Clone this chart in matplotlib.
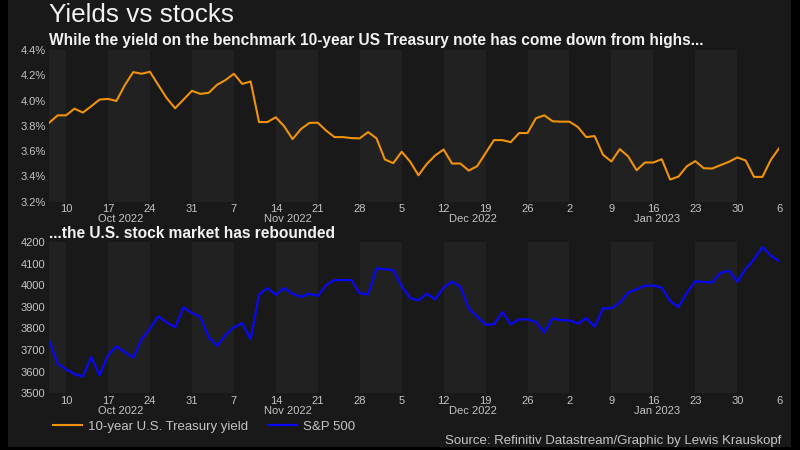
import matplotlib.pyplot as plt
import numpy as np
import pandas as pd
from matplotlib.patches import Rectangle

plt.rcParams['font.family'] = ['Liberation Sans', 'DejaVu Sans']

# weekdays, Thu 6 Oct 2022 to Mon 6 Feb 2023
dates = pd.bdate_range('2022-10-06', '2023-02-06')

# 10-year US Treasury yield, %
yields = [3.825, 3.883, 3.883, 3.936, 3.905, 3.955, 4.008, 4.013, 3.997, 4.122,
          4.225, 4.212, 4.228, 4.122, 4.019, 3.939, 4.008, 4.077, 4.053, 4.061,
          4.125, 4.162, 4.212, 4.132, 4.151, 3.830, 3.830, 3.868, 3.796, 3.695,
          3.775, 3.823, 3.825, 3.762, 3.711, 3.711, 3.703, 3.701, 3.751, 3.701,
          3.534, 3.505, 3.595, 3.518, 3.409, 3.499, 3.566, 3.613, 3.502, 3.502,
          3.446, 3.481, 3.584, 3.687, 3.687, 3.671, 3.743, 3.743, 3.860, 3.883,
          3.836, 3.833, 3.833, 3.791, 3.711, 3.719, 3.571, 3.518, 3.616, 3.558,
          3.449, 3.510, 3.510, 3.536, 3.375, 3.399, 3.481, 3.521, 3.465, 3.462,
          3.489, 3.515, 3.550, 3.526, 3.396, 3.396, 3.531, 3.624]

# S&P 500 index
spx = [3742, 3637, 3611, 3589, 3577, 3668, 3583, 3677, 3717, 3691,
       3665, 3750, 3799, 3856, 3828, 3805, 3898, 3872, 3853, 3760,
       3719, 3770, 3805, 3824, 3750, 3956, 3987, 3956, 3987, 3961,
       3946, 3961, 3950, 4001, 4024, 4024, 4024, 3963, 3958, 4078,
       4074, 4070, 3996, 3941, 3930, 3961, 3935, 3989, 4017, 3993,
       3893, 3855, 3818, 3819, 3876, 3819, 3842, 3842, 3830, 3782,
       3847, 3838, 3838, 3822, 3848, 3808, 3893, 3893, 3919, 3966,
       3981, 3998, 3998, 3989, 3927, 3899, 3966, 4018, 4015, 4013,
       4057, 4067, 4016, 4075, 4120, 4177, 4137, 4111]

x = np.arange(len(dates))
mondays = x[dates.dayofweek == 0]
monday_labels = [str(d.day) for d in dates[mondays]]

BG = '#191919'
BAND = '#212121'
TXT = '#c4c4c4'

fig = plt.figure(figsize=(8, 4.5), dpi=100, facecolor='black')
fig.patches.append(Rectangle((8 / 800, 3 / 450), 783 / 800, 447 / 450,
                             transform=fig.transFigure, facecolor=BG,
                             edgecolor='none', zorder=-1))

ax1 = fig.add_axes([0.0616, 0.5518, 0.9124, 0.3371])
ax2 = fig.add_axes([0.0616, 0.126, 0.9124, 0.3362])

edges = [0] + list(mondays)
for ax in (ax1, ax2):
    ax.set_facecolor(BG)
    for s in ax.spines.values():
        s.set_visible(False)
    # alternating weekly shading
    for i in range(0, len(edges) - 1, 2):
        ax.axvspan(edges[i], edges[i + 1], color=BAND, lw=0, zorder=0)
    ax.set_xlim(0, len(x) - 1)
    ax.set_xticks(mondays)
    ax.set_xticklabels(monday_labels)
    ax.tick_params(length=0, colors=TXT, labelsize=8)
    ax.tick_params(axis='x', pad=2)
    ax.tick_params(axis='y', pad=2.6)
    # month labels under the day ticks
    for per in dates.to_period('M').unique():
        idx = x[dates.to_period('M') == per]
        if len(idx) < 10:
            continue
        ax.annotate(per.strftime('%b %Y'), xy=((idx[0] + idx[-1]) / 2, 0),
                    xycoords=('data', 'axes fraction'), xytext=(0, -12.6),
                    textcoords='offset points', ha='center', va='center',
                    color=TXT, fontsize=8)

l1, = ax1.plot(x, yields, color='#F0930A', lw=1.5, zorder=3,
               label='10-year U.S. Treasury yield')
ax1.set_ylim(3.2, 4.4)
ax1.set_yticks(np.arange(3.2, 4.41, 0.2))
ax1.set_yticklabels(['{:.1f}%'.format(v) for v in np.arange(3.2, 4.41, 0.2)])

l2, = ax2.plot(x, spx, color='#0808F5', lw=1.6, zorder=3, label='S&P 500')
ax2.set_ylim(3500, 4200)
ax2.set_yticks(range(3500, 4201, 100))

fig.text(0.0616, 0.967, 'Yields vs stocks', color='#f2f2f2', fontsize=18.8,
         va='center', ha='left')
fig.text(0.0616, 0.9096,
         'While the yield on the benchmark 10-year US Treasury note has come down from highs...',
         color='#f2f2f2', fontsize=11.2, fontweight='bold', va='center', ha='left')
fig.text(0.0616, 0.482, '...the U.S. stock market has rebounded',
         color='#f2f2f2', fontsize=11.2, fontweight='bold', va='center', ha='left')

fig.legend(handles=[l1, l2], loc='center left', bbox_to_anchor=(0.066, 0.052),
           ncol=2, frameon=False, borderpad=0, borderaxespad=0,
           handlelength=2.2, handletextpad=0.45, columnspacing=1.5,
           fontsize=9.5, labelcolor=TXT)

fig.text(0.977, 0.02, 'Source: Refinitiv Datastream/Graphic by Lewis Krauskopf',
         color=TXT, fontsize=9.5, ha='right', va='center')

fig.savefig('out.png', dpi=100, facecolor=fig.get_facecolor())
